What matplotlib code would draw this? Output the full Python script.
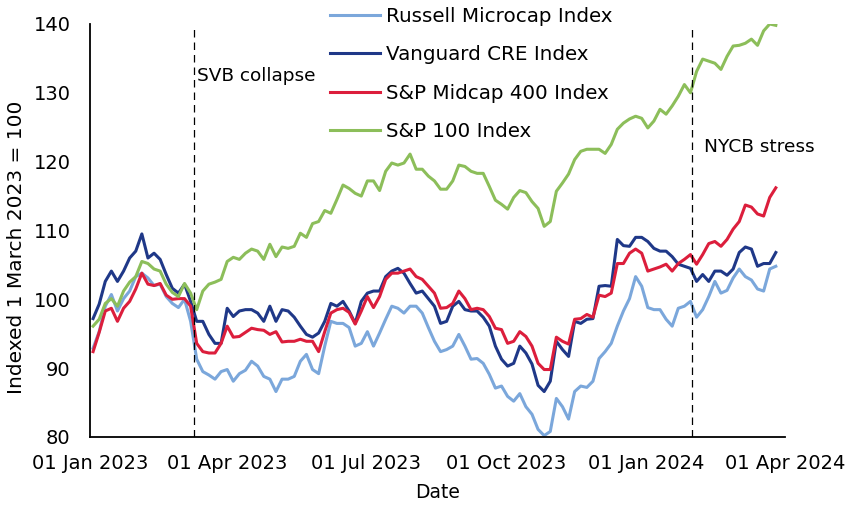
import matplotlib
matplotlib.use("Agg")
import matplotlib.pyplot as plt
import matplotlib.dates as mdates
import pandas as pd

plt.rcParams['font.family'] = ['DejaVu Sans']

# dates every 4 days, Jan 2023 - Mar 2024
dates = pd.date_range('2023-01-03', periods=113, freq='4D')

russell = [
    92.9, 95.3, 99.0, 100.7, 98.3, 100.1, 101.2, 103.3, 103.8, 103.1,
    102.0, 102.2, 100.4, 99.4, 98.8, 100.0, 96.8, 91.3, 89.5, 89.0,
    88.4, 89.5, 89.8, 88.1, 89.2, 89.7, 91.0, 90.3, 88.8, 88.4,
    86.6, 88.4, 88.4, 88.8, 91.0, 92.0, 89.8, 89.2, 93.2, 96.8,
    96.5, 96.5, 95.9, 93.2, 93.6, 95.3, 93.2, 95.1, 97.1, 99.0,
    98.7, 98.0, 99.0, 99.0, 98.0, 95.9, 93.9, 92.4, 92.7, 93.2,
    94.9, 93.2, 91.3, 91.4, 90.7, 89.1, 87.1, 87.4, 85.9, 85.2,
    86.3, 84.4, 83.3, 81.1, 80.2, 80.8, 85.6, 84.4, 82.6, 86.6,
    87.4, 87.2, 88.1, 91.4, 92.4, 93.6, 96.1, 98.3, 100.1, 103.3,
    101.9, 98.8, 98.5, 98.5, 97.1, 96.1, 98.7, 99.0, 99.7, 97.4,
    98.5, 100.4, 102.6, 100.9, 101.3, 103.1, 104.4, 103.3, 102.8, 101.5,
    101.2, 104.4, 104.8,
]

vanguard = [
    97.2, 99.3, 102.6, 104.1, 102.6, 104.1, 106.0, 107.0, 109.5, 106.0,
    106.7, 105.8, 103.6, 101.6, 100.9, 102.2, 99.7, 96.8, 96.8, 94.9,
    93.6, 93.6, 98.7, 97.5, 98.3, 98.5, 98.5, 98.0, 96.8, 99.0,
    96.8, 98.5, 98.3, 97.4, 96.1, 94.9, 94.5, 95.1, 96.8, 99.4,
    99.0, 99.7, 98.3, 96.5, 99.7, 100.9, 101.2, 101.2, 103.3, 104.1,
    104.5, 103.8, 102.3, 100.9, 101.2, 100.1, 99.0, 96.5, 96.8, 99.0,
    99.7, 98.5, 98.3, 98.3, 97.4, 96.1, 93.2, 91.3, 90.3, 90.7,
    93.2, 92.2, 90.6, 87.5, 86.6, 88.1, 93.9, 92.7, 91.7, 96.8,
    96.5, 97.1, 97.2, 101.9, 102.0, 101.9, 108.7, 107.8, 107.7, 109.0,
    109.0, 108.4, 107.4, 107.0, 107.0, 106.2, 105.1, 104.8, 104.5, 102.6,
    103.6, 102.6, 104.1, 104.1, 103.5, 104.4, 106.8, 107.6, 107.3, 104.8,
    105.2, 105.2, 106.8,
]

midcap = [
    92.4, 95.2, 98.3, 98.7, 96.8, 98.7, 99.7, 101.5, 103.8, 102.2,
    102.0, 102.3, 100.6, 100.0, 100.1, 100.1, 99.0, 93.6, 92.4, 92.2,
    92.2, 93.6, 96.1, 94.5, 94.6, 95.2, 95.8, 95.6, 95.5, 94.9,
    95.3, 93.8, 93.9, 93.9, 94.2, 93.9, 93.9, 92.4, 95.3, 98.0,
    98.5, 98.7, 98.1, 96.4, 98.3, 100.4, 98.8, 100.4, 102.9, 103.8,
    103.8, 104.1, 104.4, 103.3, 102.9, 101.9, 100.9, 98.7, 98.8, 99.4,
    101.2, 100.1, 98.5, 98.7, 98.5, 97.5, 95.8, 95.6, 93.6, 93.9,
    95.3, 94.6, 93.2, 90.7, 89.8, 89.8, 94.5, 93.9, 93.5, 97.1,
    97.2, 97.8, 97.4, 100.6, 100.4, 100.9, 105.2, 105.2, 106.7, 107.3,
    106.7, 104.1, 104.4, 104.7, 105.1, 104.1, 105.2, 105.8, 106.5, 105.1,
    106.5, 108.1, 108.4, 107.7, 108.7, 110.2, 111.3, 113.7, 113.4, 112.4,
    112.1, 114.8, 116.2,
]

sp100 = [
    96.1, 97.1, 99.4, 100.1, 99.0, 101.2, 102.5, 103.3, 105.5, 105.2,
    104.4, 104.1, 102.2, 101.0, 100.4, 102.3, 100.9, 98.5, 101.2, 102.2,
    102.5, 102.9, 105.5, 106.1, 105.8, 106.7, 107.3, 107.0, 105.8, 108.0,
    106.2, 107.6, 107.4, 107.7, 109.6, 109.0, 111.0, 111.3, 112.9, 112.5,
    114.5, 116.6, 116.1, 115.4, 115.0, 117.2, 117.2, 115.8, 118.6, 119.8,
    119.5, 119.8, 121.1, 118.9, 118.9, 117.9, 117.2, 116.0, 116.0, 117.2,
    119.5, 119.3, 118.6, 118.3, 118.3, 116.4, 114.4, 113.8, 113.1, 114.8,
    115.8, 115.5, 114.2, 113.2, 110.6, 111.3, 115.7, 116.9, 118.2, 120.3,
    121.5, 121.8, 121.8, 121.8, 121.2, 122.5, 124.7, 125.6, 126.2, 126.6,
    126.3, 124.9, 125.9, 127.6, 126.9, 128.1, 129.5, 131.2, 130.0, 133.1,
    134.9, 134.6, 134.3, 133.4, 135.3, 136.8, 136.9, 137.2, 137.8, 136.9,
    139.0, 140.0, 139.8,
]

series_names = ['Russell Microcap Index', 'Vanguard CRE Index',
                'S&P Midcap 400 Index', 'S&P 100 Index']
colors = ['#7BA7DB', '#1F3888', '#DC1E3C', '#8CBE5A']

# event date, label, label height, label offset in days
events = [('2023-03-10', 'SVB collapse', 132.4, 2),
          ('2024-01-31', 'NYCB stress', 122.2, 8)]

x_ticks = pd.to_datetime(['2023-01-01', '2023-04-01', '2023-07-01',
                          '2023-10-01', '2024-01-01', '2024-04-01'])

fig = plt.figure(figsize=(8.51, 5.05), dpi=100)
ax = fig.add_axes([0.1058, 0.1347, 0.8166, 0.8178])

lines = []
for name, vals, c in zip(series_names, [russell, vanguard, midcap, sp100], colors):
    ln, = ax.plot(dates, vals, color=c, lw=2.2, label=name)
    lines.append(ln)

for d, txt, ty, off in events:
    dt = pd.Timestamp(d)
    ax.vlines(dt, 80, 139.2, colors='black', linestyles=(0, (6, 4)), lw=0.9)
    ax.text(dt + pd.Timedelta(days=off), ty, txt, fontsize=13.3,
            ha='left', va='center')

ax.set_xlim(x_ticks[0], x_ticks[-1])
ax.set_ylim(80, 140)
ax.set_yticks(range(80, 141, 10))
ax.set_xticks(x_ticks)
ax.xaxis.set_major_formatter(mdates.DateFormatter('%d %b %Y'))
ax.tick_params(length=0, labelsize=14)
ax.tick_params(axis='x', pad=12)
ax.tick_params(axis='y', pad=14)

for s in ['top', 'right']:
    ax.spines[s].set_visible(False)
for s in ['left', 'bottom']:
    ax.spines[s].set_linewidth(1.3)
    ax.spines[s].set_color('black')

ax.set_ylabel('Indexed 1 March 2023 = 100', fontsize=14.5)
ax.yaxis.set_label_coords(-0.092, 0.46)
ax.set_xlabel('Date', fontsize=13.5)
ax.xaxis.set_label_coords(0.5, -0.112)

fig.legend(handles=lines, loc='upper left', bbox_to_anchor=(0.388, 0.986),
           frameon=False, fontsize=14.3, handlelength=2.5, handletextpad=0.3,
           labelspacing=0.97, borderpad=0, borderaxespad=0)

fig.savefig('out.png', dpi=100)
